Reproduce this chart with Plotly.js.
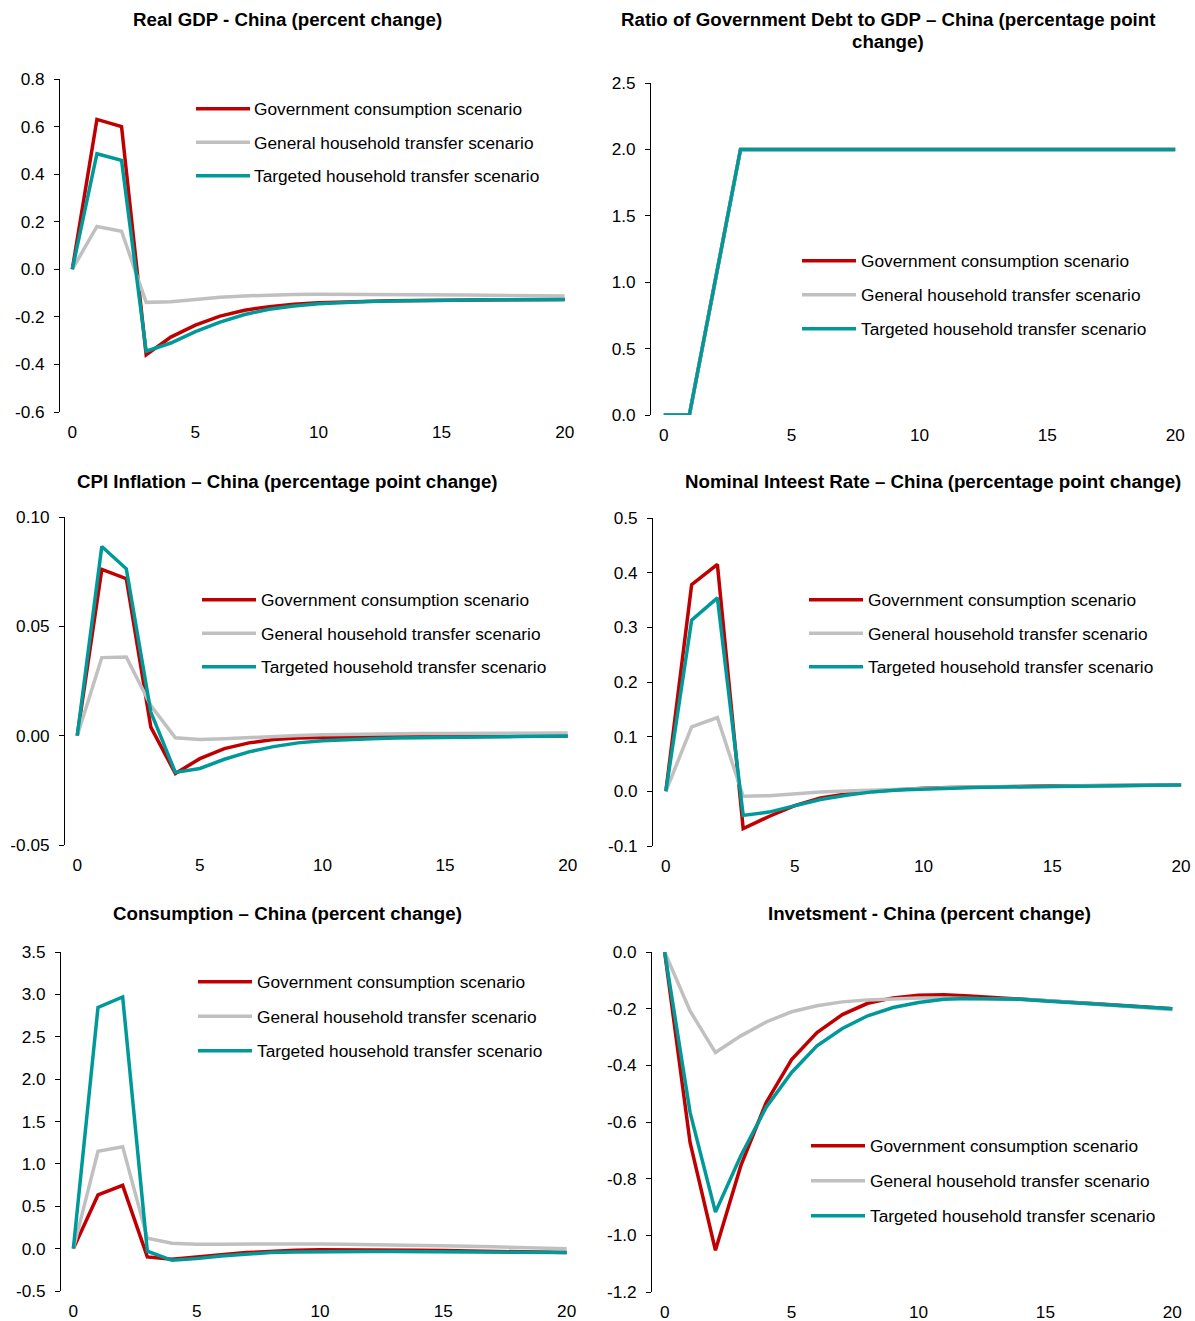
<!DOCTYPE html>
<html>
<head>
<meta charset="utf-8">
<script src="https://cdn.plot.ly/plotly-3.0.1.min.js"></script>
<style>
html,body{margin:0;padding:0;background:#ffffff;}
#chart{width:1195px;height:1321px;}
</style>
</head>
<body>
<div id="chart"></div>
<script>
// ---------- data ----------
const periods = [0,1,2,3,4,5,6,7,8,9,10,11,12,13,14,15,16,17,18,19,20];
const xTickVals = [0,5,10,15,20];
const xTickText = ["0","5","10","15","20"];
const seriesNames = ["Government consumption scenario","General household transfer scenario","Targeted household transfer scenario"];
const seriesColors = ["#C00000","#C0C0C0","#009999"];

// Real GDP (percent change)
const gdpGov = [0,0.63,0.60,-0.36,-0.285,-0.235,-0.197,-0.172,-0.157,-0.147,-0.141,-0.137,-0.134,-0.132,-0.131,-0.130,-0.129,-0.128,-0.128,-0.127,-0.127];
const gdpGen = [0,0.18,0.16,-0.139,-0.136,-0.126,-0.118,-0.112,-0.108,-0.106,-0.105,-0.105,-0.105,-0.106,-0.106,-0.107,-0.108,-0.109,-0.110,-0.111,-0.112];
const gdpTgt = [0,0.486,0.458,-0.344,-0.31,-0.262,-0.222,-0.19,-0.168,-0.154,-0.145,-0.139,-0.135,-0.133,-0.131,-0.130,-0.129,-0.128,-0.128,-0.127,-0.127];
const gdpYVals = [-0.6,-0.4,-0.2,0,0.2,0.4,0.6,0.8];
const gdpYText = ["-0.6","-0.4","-0.2","0.0","0.2","0.4","0.6","0.8"];

// Government debt to GDP (pp change)
const debtGov = [0,0,1.0,2.0,2.0,2.0,2.0,2.0,2.0,2.0,2.0,2.0,2.0,2.0,2.0,2.0,2.0,2.0,2.0,2.0,2.0];
const debtGen = [0,0,1.0,2.0,2.0,2.0,2.0,2.0,2.0,2.0,2.0,2.0,2.0,2.0,2.0,2.0,2.0,2.0,2.0,2.0,2.0];
const debtTgt = [0,0,1.0,2.0,2.0,2.0,2.0,2.0,2.0,2.0,2.0,2.0,2.0,2.0,2.0,2.0,2.0,2.0,2.0,2.0,2.0];
const debtYVals = [0,0.5,1.0,1.5,2.0,2.5];
const debtYText = ["0.0","0.5","1.0","1.5","2.0","2.5"];

// CPI inflation (pp change)
const cpiGov = [0,0.076,0.0718,0.0039,-0.0173,-0.0105,-0.0059,-0.0033,-0.0018,-0.0011,-0.0008,-0.0006,-0.0005,-0.0004,-0.0004,-0.0003,-0.0003,-0.0003,-0.0002,-0.0002,-0.0002];
const cpiGen = [0,0.0357,0.036,0.0138,-0.001,-0.0017,-0.0014,-0.0008,-0.0003,0.0001,0.0004,0.0006,0.0008,0.0009,0.001,0.001,0.0011,0.0011,0.0012,0.0012,0.0012];
const cpiTgt = [0,0.0865,0.0763,0.0108,-0.0168,-0.015,-0.0108,-0.0074,-0.005,-0.0033,-0.0023,-0.0017,-0.0014,-0.0011,-0.0009,-0.0007,-0.0006,-0.0005,-0.0004,-0.0003,-0.0002];
const cpiYVals = [-0.05,0,0.05,0.10];
const cpiYText = ["-0.05","0.00","0.05","0.10"];

// Nominal interest rate (pp change)
const rateGov = [0,0.378,0.415,-0.068,-0.046,-0.026,-0.012,-0.005,0.0,0.003,0.0055,0.007,0.008,0.0088,0.0095,0.01,0.0104,0.0107,0.011,0.0113,0.0115];
const rateGen = [0,0.118,0.135,-0.009,-0.008,-0.004,-0.001,0.0006,0.0024,0.004,0.0055,0.0067,0.0077,0.0085,0.0092,0.0098,0.0103,0.0107,0.011,0.0113,0.0115];
const rateTgt = [0,0.313,0.354,-0.044,-0.038,-0.026,-0.015,-0.007,-0.001,0.0024,0.0043,0.0057,0.0068,0.0078,0.0086,0.0093,0.0099,0.0104,0.0108,0.0112,0.0115];
const rateYVals = [-0.1,0,0.1,0.2,0.3,0.4,0.5];
const rateYText = ["-0.1","0.0","0.1","0.2","0.3","0.4","0.5"];

// Consumption (percent change)
const consGov = [0,0.633,0.747,-0.098,-0.126,-0.094,-0.071,-0.047,-0.031,-0.02,-0.013,-0.012,-0.013,-0.015,-0.018,-0.022,-0.026,-0.031,-0.036,-0.041,-0.047];
const consGen = [0,1.148,1.203,0.122,0.063,0.051,0.053,0.055,0.055,0.055,0.054,0.052,0.049,0.045,0.04,0.035,0.029,0.022,0.015,0.008,0.0];
const consTgt = [0,2.847,2.969,-0.03,-0.138,-0.118,-0.087,-0.063,-0.047,-0.04,-0.036,-0.035,-0.035,-0.035,-0.036,-0.037,-0.039,-0.041,-0.043,-0.045,-0.047];
const consYVals = [-0.5,0,0.5,1.0,1.5,2.0,2.5,3.0,3.5];
const consYText = ["-0.5","0.0","0.5","1.0","1.5","2.0","2.5","3.0","3.5"];

// Investment (percent change)
const invGov = [0,-0.672,-1.053,-0.754,-0.531,-0.38,-0.284,-0.221,-0.181,-0.162,-0.153,-0.151,-0.155,-0.16,-0.166,-0.171,-0.177,-0.183,-0.189,-0.195,-0.2];
const invGen = [0,-0.208,-0.355,-0.296,-0.247,-0.211,-0.19,-0.176,-0.169,-0.164,-0.162,-0.162,-0.163,-0.164,-0.168,-0.171,-0.177,-0.183,-0.19,-0.196,-0.204];
const invTgt = [0,-0.566,-0.918,-0.719,-0.548,-0.425,-0.331,-0.27,-0.225,-0.196,-0.178,-0.167,-0.164,-0.164,-0.167,-0.173,-0.178,-0.184,-0.19,-0.195,-0.2];
const invYVals = [-1.2,-1.0,-0.8,-0.6,-0.4,-0.2,0];
const invYText = ["-1.2","-1.0","-0.8","-0.6","-0.4","-0.2","0.0"];

// ---------- layout helpers ----------
const W = 1195, H = 1321;
const fx = p => p / W;
const fy = p => 1 - p / H;
const FONT = "Liberation Sans, Arial, Helvetica, sans-serif";
const KEY_LEN = 54;

const panels = [
  {title:["Real GDP - China (percent change)"], series:[gdpGov,gdpGen,gdpTgt], yv:gdpYVals, yt:gdpYText,
   left:60, right:577, top:79, bottom:412, tx:287, ty:[20], lx:190, ly:91, gap:8},
  {title:["Ratio of Government Debt to GDP \u2013 China (percentage point","change)"], series:[debtGov,debtGen,debtTgt], yv:debtYVals, yt:debtYText,
   left:651, right:1188, top:83, bottom:415, tx:888, ty:[20,41], lx:797, ly:243, gap:8.5},
  {title:["CPI Inflation \u2013 China (percentage point change)"], series:[cpiGov,cpiGen,cpiTgt], yv:cpiYVals, yt:cpiYText,
   left:65, right:580, top:517, bottom:845, tx:287, ty:[481], lx:197, ly:582, gap:8},
  {title:["Nominal Inteest Rate \u2013 China (percentage point change)"], series:[rateGov,rateGen,rateTgt], yv:rateYVals, yt:rateYText,
   left:653, right:1194, top:518, bottom:846, tx:933, ty:[481], lx:804, ly:582, gap:8},
  {title:["Consumption \u2013 China (percent change)"], series:[consGov,consGen,consTgt], yv:consYVals, yt:consYText,
   left:61, right:579, top:952, bottom:1291, tx:287, ty:[914], lx:193, ly:964, gap:9},
  {title:["Invetsment - China (percent change)"], series:[invGov,invGen,invTgt], yv:invYVals, yt:invYText,
   left:652, right:1185, top:952, bottom:1292, tx:929, ty:[914], lx:806, ly:1128, gap:9.5}
];

const traces = [];
const layout = {
  width: W, height: H,
  margin: {l:0, r:0, t:0, b:0, pad:0},
  paper_bgcolor: "#ffffff",
  plot_bgcolor: "rgba(0,0,0,0)",
  font: {family: FONT, size: 17, color: "#000000"},
  showlegend: true,
  annotations: []
};

panels.forEach((p, i) => {
  const n = i + 1;
  const xl = "x" + (2*n - 1), ya = "y" + n;
  const xlKey = "xaxis" + (2*n - 1), xtKey = "xaxis" + (2*n), yKey = "yaxis" + n;
  const legKey = n === 1 ? "legend" : "legend" + n;
  const ymin = Math.min(...p.yv), ymax = Math.max(...p.yv);
  const xDom = [fx(p.left), fx(p.right)];
  const yDom = [fy(p.bottom), fy(p.top)];
  const zeroPx = p.bottom - (0 - ymin) / (ymax - ymin) * (p.bottom - p.top);

  p.series.forEach((s, k) => {
    traces.push({
      type: "scatter", mode: "lines",
      x: periods, y: s,
      name: seriesNames[k],
      line: {color: seriesColors[k], width: 3.5},
      xaxis: xl, yaxis: ya,
      legend: legKey,
      legendgroup: "p" + n + "s" + k,
      hoverinfo: "x+y+name"
    });
  });

  layout[xlKey] = {
    domain: xDom, anchor: ya, range: [-0.5, 20.5],
    tickmode: "array", tickvals: xTickVals, ticktext: xTickText,
    ticks: "", showline: false, showgrid: false, zeroline: false,
    tickfont: {family: FONT, size: 17.2, color: "#000"},
    ticklabelstandoff: 8, fixedrange: true
  };
  layout[xtKey] = {
    overlaying: xl, anchor: "free", position: fy(zeroPx), side: "bottom",
    range: [-0.5, 20.5], tickmode: "linear", tick0: -0.5, dtick: 1,
    ticks: "outside", ticklen: 6, tickwidth: 1, tickcolor: "#000",
    showticklabels: false, showline: true, linecolor: "#000", linewidth: 1,
    showgrid: false, zeroline: false, fixedrange: true
  };
  layout[yKey] = {
    domain: yDom, anchor: xl, range: [ymin, ymax],
    tickmode: "array", tickvals: p.yv, ticktext: p.yt,
    ticks: "outside", ticklen: 5, tickwidth: 1, tickcolor: "#000",
    showline: true, linecolor: "#000", linewidth: 1,
    showgrid: false, zeroline: false,
    tickfont: {family: FONT, size: 17.2, color: "#000"},
    ticklabelstandoff: 6, fixedrange: true
  };
  layout[legKey] = {
    x: fx(p.lx), y: fy(p.ly), xanchor: "left", yanchor: "top",
    bgcolor: "rgba(0,0,0,0)", borderwidth: 0,
    font: {family: FONT, size: 17.3, color: "#000"},
    traceorder: "grouped", tracegroupgap: p.gap, itemwidth: KEY_LEN
  };
  p.title.forEach((line, j) => {
    layout.annotations.push({
      xref: "paper", yref: "paper", x: fx(p.tx), y: fy(p.ty[j]),
      xanchor: "center", yanchor: "middle", showarrow: false,
      text: line, align: "center",
      font: {family: FONT, size: 18.7, color: "#000", weight: "bold"}
    });
  });
});

Plotly.newPlot("chart", traces, layout, {displayModeBar: false, staticPlot: true}).then(gd => {
  // lengthen the legend line samples to fill the wider key slot
  gd.querySelectorAll(".legend .legendlines path").forEach(path => {
    path.setAttribute("d", "M6,0h" + KEY_LEN);
  });
});
</script>
</body>
</html>
